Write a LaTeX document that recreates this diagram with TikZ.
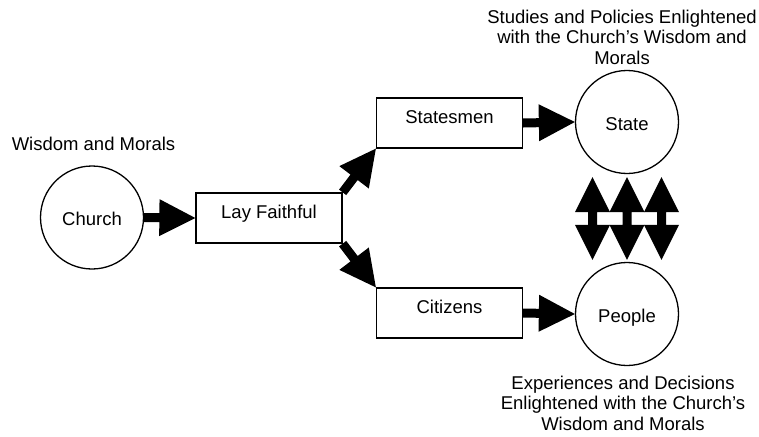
\documentclass[tikz,border=0pt]{standalone}
\usepackage{fontspec}
\setmainfont{Liberation Sans}
\usetikzlibrary{calc}
\newcommand\blkarrow[2]{%
  \fill ($(#1)!4.5pt!90:(#2)$) -- ($($(#2)!36pt!(#1)$)!4.5pt!-90:(#1)$) -- ($($(#2)!36pt!(#1)$)!18.5pt!-90:(#1)$) -- (#2) -- ($($(#2)!36pt!(#1)$)!18.5pt!90:(#1)$) -- ($($(#2)!36pt!(#1)$)!4.5pt!90:(#1)$) -- ($(#1)!4.5pt!-90:(#2)$) -- cycle;}
\newcommand\dblarrow[2]{%
  \fill (#1) -- ($($(#1)!35pt!(#2)$)!17.5pt!90:(#2)$) -- ($($(#1)!35pt!(#2)$)!4.5pt!90:(#2)$) -- ($($(#2)!35pt!(#1)$)!4.5pt!-90:(#1)$) -- ($($(#2)!35pt!(#1)$)!17.5pt!-90:(#1)$) -- (#2) -- ($($(#2)!35pt!(#1)$)!17.5pt!90:(#1)$) -- ($($(#2)!35pt!(#1)$)!4.5pt!90:(#1)$) -- ($($(#1)!35pt!(#2)$)!4.5pt!-90:(#2)$) -- ($($(#1)!35pt!(#2)$)!17.5pt!-90:(#2)$) -- cycle;}
\begin{document}
\begin{tikzpicture}[x=1pt,y=-1pt,
  every node/.style={font=\fontsize{18.5}{20.5}\selectfont, inner sep=0pt},
  entity/.style={circle, draw, line width=1.3pt, fill=white, minimum size=103pt, text height=16pt, text depth=0pt},
  role/.style={rectangle, draw, line width=1.3pt, fill=white, minimum width=146pt, minimum height=50pt, text height=13pt, text depth=13pt},
  caption/.style={align=center}]
\useasboundingbox (0,0) rectangle (759,436);
\node[entity] (church) at (92,217.5) {Church};
\node[role] (lay) at (269,218) {Lay Faithful};
\node[role] (statesmen) at (449.5,123) {Statesmen};
\node[role] (citizens) at (449.5,313) {Citizens};
\node[entity] (state) at (627,122) {State};
\node[entity] (people) at (627,314) {People};
\node[anchor=base] (wm) at (93.5,150) {Wisdom and Morals};
\node[caption, anchor=north] (top) at (622,9.5) {Studies and Policies Enlightened\\with the Church's Wisdom and\\Morals};
\node[caption, anchor=north] (bottom) at (623,375.5) {Experiences and Decisions\\Enlightened with the Church's\\Wisdom and Morals};
\blkarrow{church.east}{lay.west}
\blkarrow{lay.north east}{statesmen.south west}
\blkarrow{lay.south east}{citizens.north west}
\blkarrow{statesmen.east}{state.west}
\blkarrow{citizens.east}{people.west}
\coordinate (u1) at ($(state.south)+(-34.5,3)$);
\coordinate (u2) at ($(state.south)+(0,3)$);
\coordinate (u3) at ($(state.south)+(34.5,3)$);
\coordinate (d1) at ($(people.north)+(-34.5,-2)$);
\coordinate (d2) at ($(people.north)+(0,-2)$);
\coordinate (d3) at ($(people.north)+(34.5,-2)$);
\dblarrow{u1}{d1}
\dblarrow{u2}{d2}
\dblarrow{u3}{d3}
\end{tikzpicture}
\end{document}
